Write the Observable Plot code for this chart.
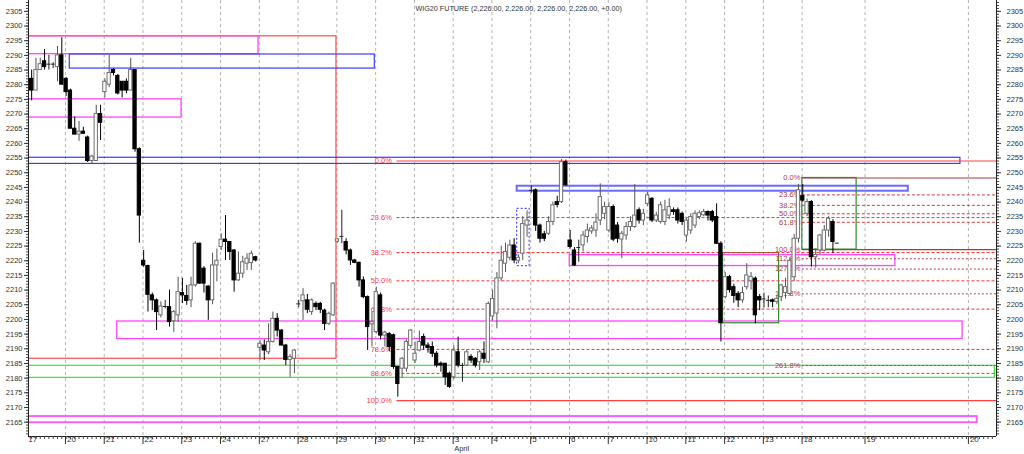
<!DOCTYPE html>
<html><head><meta charset="utf-8">
<script src="https://cdn.jsdelivr.net/npm/d3@7"></script>
<script src="https://cdn.jsdelivr.net/npm/@observablehq/plot@0.6"></script>
<style>
body{margin:0;background:#fff;}
#chart{width:1024px;height:454px;overflow:hidden;}
</style></head><body><div id="chart"></div>
<script>
// ---------- DATA ----------
const title = "WIG20 FUTURE (2,226.00, 2,226.00, 2,226.00, 2,226.00, +0.00)";
const dayLabels = ["17","20","21","22","23","24","27","28","29","30","31","3","4","5","6","7","10","11","12","13","18"];
const futureLabels = ["19","20"];
const futureBars = [194.6, 218.6];
const monthLabel = "April";
const monthDayIndex = 11;
const barsPerDay = 9;
// hourly bars [open, high, low, close]
const mar17 = [null,
 [2282,2285,2274.5,2278],[2278,2289,2278,2285],[2285,2289,2285,2287],[2288,2292,2285,2286],
 [2287,2290,2285,2287],[2287,2287.5,2285.5,2287.2],[2286,2293,2281,2290],[2290,2296,2280,2280]];
const mar20 = [
 [2282,2282.5,2276,2277.5],[2278,2278.5,2265,2265],[2265,2269,2263,2263],[2263,2267.5,2260.7,2264],
 [2264,2265.5,2263,2263.3],[2262,2262.5,2253.5,2254],[2254,2256,2253,2255.5],[2254,2273,2254,2270],[2270,2273,2261,2267]];
const mar21 = [
 [2277.5,2282,2275.5,2281],[2280,2290,2279,2284],[2285,2285.5,2283,2284],[2283,2283.5,2276.5,2277],
 [2281,2281,2275.5,2278],[2281,2282,2277,2278],[2278,2289,2278,2285],[2285,2285,2257,2258],[2258,2258.5,2226,2235.4]];
const mar22 = [
 [2220,2223.5,2217.8,2218.4],[2218.2,2218.5,2202.5,2208.4],[2208.2,2209,2203,2206.5],[2206.5,2207,2196.2,2202.5],
 [2201.4,2206,2200.5,2204.4],[2204.4,2206.5,2203.6,2204.6],[2204.2,2210,2197.4,2199.1],[2199.4,2203,2195.6,2202.5],[2201.4,2214.4,2199,2209.3]];
const mar23 = [
 [2209,2214,2205.4,2208.2],[2208,2211.6,2204.8,2206.3],[2206.5,2214.4,2204,2211.6],[2211.6,2226.5,2211,2225.8],
 [2225.8,2226,2212,2212.2],[2217.3,2218,2209,2212.2],[2211.2,2211.5,2199.7,2206.5],[2206.5,2222.6,2205,2218.4],[2218.4,2224,2212.8,2220]];
const mar24 = [
 [2224.7,2229.2,2223.5,2227.2],[2227.2,2235.4,2220.1,2226.4],[2226.4,2226.5,2220.1,2223],[2223.5,2223.8,2209.3,2213.3],
 [2213.3,2223,2213,2215.6],[2215.6,2221.5,2214,2219.5],[2219,2222.4,2216.7,2220.7],[2219.2,2223.3,2216.7,2222.4],[2221.2,2221.5,2219.6,2220.1]];
const mar27 = [
 [2190.3,2192.8,2186,2191.7],[2191.1,2193,2186,2189.4],[2188.8,2198.5,2188,2192.3],[2192.3,2202.5,2192,2200.2],
 [2200.2,2202,2194,2196.2],[2196.2,2196.5,2191,2191.1],[2191.1,2191.5,2184.3,2186.2],[2186.2,2188,2180.3,2187.2],[2186.6,2189.8,2181.5,2189.4]];
const mar28 = [
 [2205.3,2206.5,2204,2205.3],[2206.2,2210.5,2199.6,2208.2],[2206.5,2208.5,2202,2203.3],[2202.5,2207,2201.4,2206.5],
 [2205.3,2206,2203,2204.2],[2205.3,2205.8,2202,2203.3],[2203,2203.5,2196.2,2198.5],[2198.5,2202.5,2197.9,2201.9],[2201.4,2212.5,2201,2212.2]];
const mar29 = [
 [2226.5,2227.5,2226,2227.3],[2228.3,2237.2,2225.8,2228.4],[2226.4,2227.5,2222,2223.5],[2223.5,2224,2218.4,2220.1],
 [2220.1,2220.5,2219,2219.3],[2219.3,2219.5,2211,2213.3],[2213.3,2214.5,2207,2207.6],[2207.6,2208,2189.4,2197.4],[2198.3,2202.5,2190.6,2199.1]];
const mar30 = [
 [2195.7,2211,2195,2209.3],[2208.2,2209,2193,2194.5],[2194.5,2196,2190.6,2195.5],[2195,2195.5,2189,2190.6],
 [2194.6,2195,2183,2183.8],[2183.8,2184,2173.5,2178],[2183.2,2187,2180,2186.6],[2183.2,2193,2182,2192.3],[2191,2196.5,2190,2196.2]];
const mar31 = [
 [2186,2192.3,2185,2188.3],[2189.4,2196,2189,2192.3],[2194,2195,2189.5,2191.1],[2191.1,2192,2188.5,2190.3],
 [2190.6,2192.3,2187,2188.3],[2188.3,2189,2183.5,2184.3],[2184.9,2185.5,2182,2184.3],[2184.9,2185,2177.5,2180.3],[2181.5,2182,2176.5,2177]];
const apr3 = [
 [2180.3,2191.1,2179.5,2189.4],[2188.8,2194,2183.5,2184.3],[2184.3,2185,2178.6,2184.5],[2184.3,2189.5,2184,2188.8],
 [2187.2,2188,2185,2186],[2186.6,2187,2183.5,2184.3],[2185.4,2189.4,2182.6,2188.8],[2188.3,2192.3,2185,2186.6],[2185.4,2206,2185,2205.3]];
const apr4 = [
 [2201,2210,2199.5,2207],[2202,2216,2196.8,2214],[2214,2225,2213,2220],[2219,2226,2216,2223],
 [2221,2227,2220,2225.2],[2225.2,2227.5,2219,2220.1],[2220,2222,2219,2221],[2222.4,2235,2220,2232.5],[2232,2237,2228,2233.7]];
const apr5 = [
 [2244,2245.5,2243,2244.3],[2244,2244.5,2230,2232],[2232,2232.5,2226,2227.5],[2229,2230,2226.5,2227.5],
 [2229.2,2235,2228.6,2233.2],[2233.2,2240,2232,2238.9],[2240,2242,2238,2239],[2240,2254.5,2239.5,2253.6],[2253.6,2254.3,2245.5,2245.7]];
const apr6 = [
 [2226.9,2230.3,2224,2224.7],[2223.5,2224.5,2218,2218.4],[2224.5,2227,2219.5,2224.7],[2225.2,2230,2223,2228.6],
 [2228.1,2232.5,2226,2230.3],[2230,2232,2229,2231],[2230.3,2236,2228,2233],[2233.7,2246.2,2232,2241.7],[2236,2240,2234,2238.3]];
const apr7 = [
 [2230.3,2240,2229.5,2238.3],[2238.3,2239,2226.5,2227.2],[2232,2233,2226,2227.5],[2227.2,2230,2220.7,2229.2],
 [2228.6,2233,2227,2231.5],[2231.5,2235,2230,2233.2],[2231.5,2246,2231,2235.4],[2237.2,2238,2232.5,2233.7],[2233.7,2237.5,2232,2236]];
const apr10 = [
 [2239.4,2243.4,2238.5,2242.3],[2241.1,2241.5,2233,2233.7],[2233.7,2236.5,2233,2235.4],[2233.2,2240,2232.5,2238.9],
 [2233.2,2240.6,2232,2237.2],[2235.4,2241.1,2234,2238.3],[2237.2,2238,2235.5,2236.6],[2237.2,2238,2232.5,2233.7],[2236,2236.6,2232,2233.2]];
const apr11 = [
 [2228.6,2234.5,2226.4,2233.7],[2230.3,2236,2229,2234.9],[2232,2237,2231,2236],[2234.9,2237,2234,2236.2],
 [2235.5,2237.5,2235,2236.6],[2236.6,2237,2233.5,2235.4],[2236.6,2237.2,2233,2233.7],[2234.9,2239.4,2225.5,2225.8],[2225.8,2226.5,2192.3,2198.7]];
const apr12 = [
 [2207.6,2216,2207,2214.4],[2214.4,2215,2209,2210],[2211,2212,2205.5,2208],[2208.7,2209.5,2204,2206.5],
 [2206.5,2211,2205.5,2209],[2211,2219,2210,2215],[2213,2216,2210,2214.5],[2213.9,2214.5,2198.5,2201.4],[2207.6,2208.5,2203,2206.5]];
const apr13 = [
 [2207,2209,2204,2207.1],[2206.5,2208,2204,2206.6],[2206.5,2207,2204,2206],[2206,2208,2205,2207],
 [2207.6,2212,2206,2211.6],[2209,2214,2207,2211],[2208.7,2221,2208,2220],[2214.4,2229,2213,2227.5],[2227.5,2246,2226,2244]];
const apr18 = [
 [2242,2246,2240,2240.5],[2236,2241,2235,2240],[2240,2240.5,2217.8,2221.2],[2221.2,2224,2217.5,2222],
 [2223.5,2229,2222,2228.6],[2223.5,2232,2223,2230.3],[2230.3,2235,2228,2234.3],[2233.2,2234,2222.4,2226.4],[2226,2226,2226,2226]];
const sessions = [mar17,mar20,mar21,mar22,mar23,mar24,mar27,mar28,mar29,mar30,mar31,
  apr3,apr4,apr5,apr6,apr7,apr10,apr11,apr12,apr13,apr18];

// Fibonacci tools: [startBar, 0% price, 100% price]
const fib1 = [85.8, 2254.0, 2172.3];
const fib1Levels = [0, 23.6, 38.2, 50, 61.8, 78.6, 88.6, 100];
const fib2 = [179.9, 2248.2, 2223.8];
const fib2Levels = [0, 23.6, 38.2, 50, 61.8, 100, 112.8, 127.2, 161.8, 261.8];

// zones [bar1, bar2, price1, price2]
const redZones = [[-5, 71.76, 2186.6, 2296.5]];
const magentaZones = [[-5, 53.66, 2290.4, 2296.5], [-5, 35.8, 2268.8, 2275.0], [20.86, 217.1, 2193.3, 2199.3], [125.9, 201.5, 2218.2, 2221.9]];
const magentaThickZones = [[-5, 220.5, 2164.8, 2166.9]];
const blueZones = [[9.85, 80.65, 2285.5, 2290.3], [-5, 216.6, 2253.0, 2255.1]];
const lightBlueZones = [[113.7, 204.5, 2243.7, 2245.4]];
const dottedBlueZones = [[113.7, 116.6, 2218.2, 2237.7]];
const greenZones = [[-5, 224.6, 2180.1, 2184.2]];
const darkGreenZones = [[161.5, 174.5, 2198.7, 2222.6], [179.9, 192.5, 2223.8, 2248.2]];

// ---------- BUILD ----------
const candles = sessions.flatMap((bars, i) => bars.map((b, j) => b && ({k: i*barsPerDay + j, o: b[0], h: b[1], l: b[2], c: b[3]}))).filter(Boolean);
const up = candles.filter(d => d.c > d.o + 0.4);
const down = candles.filter(d => d.c < d.o - 0.4);
const flat = candles.filter(d => Math.abs(d.c - d.o) <= 0.4);
const gridOffset = -0.15;
const dayTicks = dayLabels.map((t, i) => ({k: i*barsPerDay + gridOffset, t}))
  .concat(futureLabels.map((t, i) => ({k: futureBars[i] + gridOffset, t})));
const fibRows = (f, levels) => levels.map(L => ({p: f[1] - (f[1]-f[2])*L/100, L, label: L.toFixed(1) + "%"}));
const f1 = fibRows(fib1, fib1Levels), f2 = fibRows(fib2, fib2Levels);
const xMin = 0.27, xMax = 224.97;
const zone = z => ({x1: z[0], x2: z[1], y1: z[2], y2: z[3]});
const zoneMark = (arr, opts) => Plot.rect(arr.map(zone), {x1: "x1", x2: "x2", y1: "y1", y2: "y2", fill: "none", clip: true, ...opts});

const chart = Plot.plot({
  width: 1024, height: 454,
  marginLeft: 28, marginRight: 28, marginTop: 0, marginBottom: 18,
  x: {domain: [xMin, xMax], axis: null},
  y: {domain: [2160.1, 2308.7], axis: null},
  style: {fontFamily: "'Liberation Sans', Arial, sans-serif", fontSize: "7.5px", color: "#333", background: "#fff"},
  marks: [
    // vertical dashed day grid
    Plot.ruleX(dayTicks.slice(1), {x: "k", stroke: "#b4b4b4", strokeDasharray: "3,3"}),
    // zones
    zoneMark(redZones, {stroke: "#ff4a4a", strokeWidth: 1.2}),
    zoneMark(magentaZones, {stroke: "#ff44ff", strokeWidth: 1.3}),
    zoneMark(magentaThickZones, {stroke: "#ff55ff", strokeWidth: 1.8}),
    zoneMark(blueZones, {stroke: "#3a3aff", strokeWidth: 1.2}),
    zoneMark(lightBlueZones, {stroke: "#6a6aff", strokeWidth: 2}),
    zoneMark(dottedBlueZones, {stroke: "#5050ff", strokeWidth: 1.2, strokeDasharray: "2,2"}),
    zoneMark(greenZones, {stroke: "#3ee03e", strokeWidth: 1.2}),
    zoneMark(darkGreenZones, {stroke: "#2f8f2f", strokeWidth: 1.2}),
    // fib 1
    Plot.ruleY(f1.filter(d => d.L === 0 || d.L === 100), {y: "p", x1: fib1[0], x2: xMax, stroke: "#ff4040", strokeWidth: 1.2}),
    Plot.ruleY(f1.filter(d => d.L !== 0 && d.L !== 100), {y: "p", x1: fib1[0], x2: xMax, stroke: "#ff3030", strokeDasharray: "3,2"}),
    Plot.text(f1, {x: fib1[0], y: "p", text: "label", textAnchor: "end", dx: -5, fill: "#ff4040", fontSize: 7.5}),
    // fib 2
    Plot.ruleY(f2.filter(d => d.L === 0 || d.L === 100), {y: "p", x1: fib2[0], x2: xMax, stroke: "#a83a3a", strokeWidth: 1.2}),
    Plot.ruleY(f2.filter(d => d.L > 0 && d.L < 100), {y: "p", x1: fib2[0], x2: xMax, stroke: "#d83a3a", strokeDasharray: "3,2"}),
    Plot.ruleY(f2.filter(d => d.L > 100), {y: "p", x1: fib2[0], x2: xMax, stroke: "#b04848", strokeDasharray: "2,2"}),
    Plot.text(f2, {x: fib2[0], y: "p", text: "label", textAnchor: "end", dx: -2, fill: "#b04040", fontSize: 7.5}),
    // candles
    Plot.ruleX(up, {x: "k", y1: "l", y2: "h", stroke: "#555"}),
    Plot.ruleX(down, {x: "k", y1: "l", y2: "h", stroke: "#000"}),
    Plot.ruleX(flat, {x: "k", y1: "l", y2: "h", stroke: "#222"}),
    Plot.rect(up, {x1: d => d.k - 0.38, x2: d => d.k + 0.38, y1: "o", y2: "c", fill: "#fff", stroke: "#707070"}),
    Plot.rect(down, {x1: d => d.k - 0.38, x2: d => d.k + 0.38, y1: "c", y2: "o", fill: "#000", stroke: "#000"}),
    Plot.ruleY(flat, {y: "o", x1: d => d.k - 0.45, x2: d => d.k + 0.45, stroke: "#222"}),
    // axes
    Plot.ruleX([xMin, xMax], {stroke: "#222"}),
    Plot.ruleY([2160.1], {stroke: "#222"}),
    Plot.axisY(d3.range(2161, 2309), {anchor: "left", tickSize: 2, tickFormat: () => "", label: null, stroke: "#444"}),
    Plot.axisY(d3.range(2161, 2309), {anchor: "right", tickSize: 2, tickFormat: () => "", label: null, stroke: "#444"}),
    Plot.axisY(d3.range(2165, 2306, 5), {anchor: "left", tickSize: 4, tickPadding: 2, tickFormat: d => String(d), label: null, fontSize: 7.5, fill: "#333"}),
    Plot.axisY(d3.range(2165, 2306, 5), {anchor: "right", tickSize: 4, tickPadding: 6, tickFormat: d => String(d), label: null, fontSize: 7.5, fill: "#333"}),
    Plot.axisX(d3.range(1, 225), {anchor: "bottom", tickSize: 3, tickFormat: () => "", label: null, stroke: "#444"}),
    Plot.axisX(dayTicks.slice(1).map(d => d.k), {anchor: "bottom", tickSize: 8, tickFormat: () => "", label: null, stroke: "#333"}),
    Plot.text(dayTicks, {x: "k", text: "t", frameAnchor: "bottom", dy: 5.5, dx: 1.5, textAnchor: "start", fontSize: 8, fill: "#333"}),
    Plot.text([dayTicks[monthDayIndex]], {x: "k", text: () => monthLabel, frameAnchor: "bottom", dy: 14.5, dx: 1, textAnchor: "start", fontSize: 7.5, fill: "#333"}),
    Plot.text([title], {frameAnchor: "top-left", dx: 387, dy: 5, textAnchor: "start", fontSize: 7.2, fill: "#333"})
  ]
});
document.getElementById("chart").appendChild(chart);
</script>
</body></html>
